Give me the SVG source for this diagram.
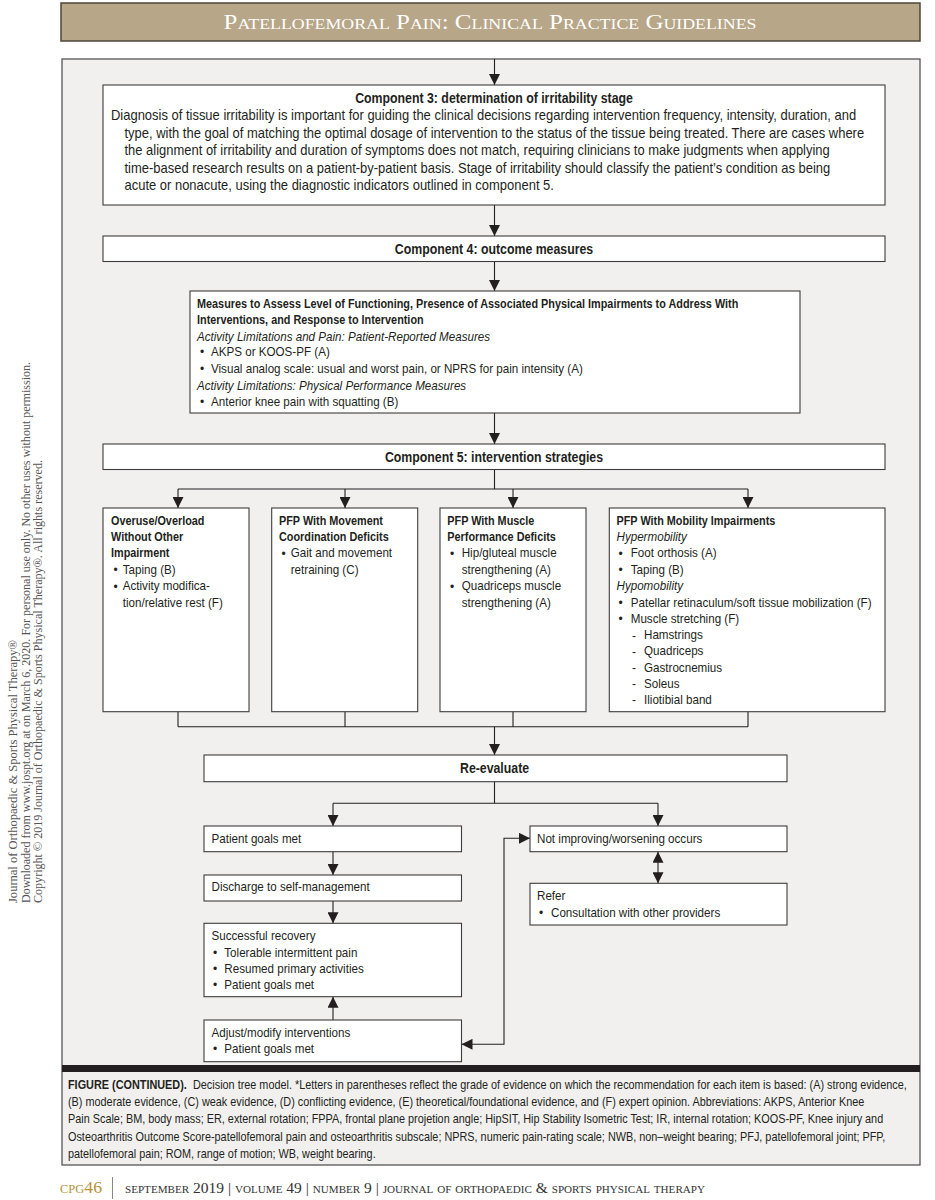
<svg xmlns="http://www.w3.org/2000/svg" width="935" height="1200" viewBox="0 0 935 1200">
<style>
.box{fill:#fff;stroke:#3c3c3c;stroke-width:1.1}
.ln{fill:none;stroke:#231f20;stroke-width:1.1}
.t{font-family:"Liberation Sans",Arial,sans-serif;fill:#231f20;font-size:13px;transform-box:fill-box;transform-origin:0 0;transform:scaleX(.894)}
.s145{font-size:14.5px}
.s12{font-size:12px;transform:scaleX(.905)}
.b{font-weight:bold;transform:scaleX(.835)}
.i{font-style:italic}
.h{font-family:"Liberation Sans",Arial,sans-serif;fill:#231f20;font-size:14.5px;font-weight:bold;text-anchor:middle;transform-box:fill-box;transform-origin:50% 0;transform:scaleX(.85)}
.bu{font-family:"Liberation Sans",Arial,sans-serif;fill:#231f20;font-size:12px}
.vt{font-family:"Liberation Serif","Times New Roman",serif;fill:#555;font-size:12px}
.sc{font-family:"Liberation Serif","Times New Roman",serif;font-variant:small-caps}
</style>
<defs>
<marker id="ah" markerUnits="userSpaceOnUse" markerWidth="11" markerHeight="11" refX="11" refY="5.5" orient="auto-start-reverse">
<path d="M0,0 L11,5.5 L0,11 Z" fill="#231f20"/>
</marker>
</defs>
<rect width="935" height="1200" fill="#fff"/>
<!-- header -->
<g id="header">
<rect x="61" y="3" width="859" height="38" fill="#b7a688" stroke="#4d4538" stroke-width="1.5"/>
<text class="sc" x="490" y="29" font-size="21" fill="#fff" text-anchor="middle" textLength="533" lengthAdjust="spacingAndGlyphs">Patellofemoral Pain: Clinical Practice Guidelines</text>
</g>
<!-- side notice -->
<g id="side-notice">
<text class="vt" transform="translate(17,903) rotate(-90)" textLength="263" lengthAdjust="spacingAndGlyphs">Journal of Orthopaedic &amp; Sports Physical Therapy®</text>
<text class="vt" transform="translate(29.5,903) rotate(-90)" textLength="541" lengthAdjust="spacingAndGlyphs">Downloaded from www.jospt.org at on March 6, 2020. For personal use only. No other uses without permission.</text>
<text class="vt" transform="translate(42,903) rotate(-90)" textLength="443" lengthAdjust="spacingAndGlyphs">Copyright © 2019 Journal of Orthopaedic &amp; Sports Physical Therapy®. All rights reserved.</text>
</g>
<!-- frame -->
<g id="frame">
<rect x="62" y="59" width="858" height="1106" fill="#f1f0ee" stroke="#555" stroke-width="1.3"/>
<rect x="62" y="1065" width="858" height="7" fill="#231f20"/>
</g>
<!-- connectors -->
<g id="connectors" class="ln">
<path d="M494.5,59 V85" marker-end="url(#ah)"/>
<path d="M494.5,205 V236" marker-end="url(#ah)"/>
<path d="M494.5,261.5 V291" marker-end="url(#ah)"/>
<path d="M494.5,413 V444" marker-end="url(#ah)"/>
<path d="M494.5,469.5 V489 M178,489 H748"/>
<path d="M178,489 V508" marker-end="url(#ah)"/>
<path d="M345,489 V508" marker-end="url(#ah)"/>
<path d="M513,489 V508" marker-end="url(#ah)"/>
<path d="M748,489 V508" marker-end="url(#ah)"/>
<path d="M178,711.7 V726.7 M345,711.7 V726.7 M513,711.7 V726.7 M748,711.7 V726.7 M178,726.7 H748"/>
<path d="M494.5,726.7 V755" marker-end="url(#ah)"/>
<path d="M494.5,781.7 V803.3 M333,803.3 H658"/>
<path d="M333,803.3 V826" marker-end="url(#ah)"/>
<path d="M658,803.3 V826" marker-end="url(#ah)"/>
<path d="M333,851.7 V875" marker-end="url(#ah)"/>
<path d="M333,901 V923.3" marker-end="url(#ah)"/>
<path d="M333,1020 V996.7" marker-end="url(#ah)"/>
<path d="M658,851.7 V883.3" marker-start="url(#ah)" marker-end="url(#ah)"/>
<path d="M461.5,1044.3 H504 V838.3 H530" marker-start="url(#ah)" marker-end="url(#ah)"/>
</g>
<!-- component 3 -->
<g id="component3">
<rect class="box" x="103" y="85" width="782" height="120"/>
<text class="h" x="494" y="103">Component 3: determination of irritability stage</text>
<text class="t s145" x="111" y="120.5">Diagnosis of tissue irritability is important for guiding the clinical decisions regarding intervention frequency, intensity, duration, and</text>
<text class="t s145" x="124.5" y="138">type, with the goal of matching the optimal dosage of intervention to the status of the tissue being treated. There are cases where</text>
<text class="t s145" x="124.5" y="155.5">the alignment of irritability and duration of symptoms does not match, requiring clinicians to make judgments when applying</text>
<text class="t s145" x="124.5" y="173">time-based research results on a patient-by-patient basis. Stage of irritability should classify the patient’s condition as being</text>
<text class="t s145" x="124.5" y="190.5">acute or nonacute, using the diagnostic indicators outlined in component 5.</text>
</g>
<g id="component4">
<rect class="box" x="103" y="236" width="782" height="25.5"/>
<text class="h" x="494" y="254">Component 4: outcome measures</text>
</g>
<g id="measures">
<rect class="box" x="190" y="291" width="610" height="122"/>
<text class="t b" x="197" y="308">Measures to Assess Level of Functioning, Presence of Associated Physical Impairments to Address With</text>
<text class="t b" x="197" y="324">Interventions, and Response to Intervention</text>
<text class="t i" x="197" y="340.7">Activity Limitations and Pain: Patient-Reported Measures</text>
<text class="bu" x="200" y="356.4">•</text><text class="t" x="211" y="356.4">AKPS or KOOS-PF (A)</text>
<text class="bu" x="200" y="373">•</text><text class="t" x="211" y="373">Visual analog scale: usual and worst pain, or NPRS for pain intensity (A)</text>
<text class="t i" x="197" y="389.7">Activity Limitations: Physical Performance Measures</text>
<text class="bu" x="200" y="405.7">•</text><text class="t" x="211" y="405.7">Anterior knee pain with squatting (B)</text>
</g>
<g id="component5">
<rect class="box" x="103" y="444" width="782" height="25.5"/>
<text class="h" x="494" y="462">Component 5: intervention strategies</text>
</g>
<g id="overuse">
<rect class="box" x="103" y="508" width="146" height="203.7"/>
<text class="t b" x="111" y="525">Overuse/Overload</text>
<text class="t b" x="111" y="541">Without Other</text>
<text class="t b" x="111" y="557.5">Impairment</text>
<text class="bu" x="113.5" y="574">•</text><text class="t" x="122.7" y="574">Taping (B)</text>
<text class="bu" x="113.5" y="590.5">•</text><text class="t" x="122.7" y="590.5">Activity modifica-</text>
<text class="t" x="122.7" y="607">tion/relative rest (F)</text>
</g>
<g id="movement">
<rect class="box" x="271.7" y="508" width="146" height="203.7"/>
<text class="t b" x="279" y="525">PFP With Movement</text>
<text class="t b" x="279" y="541">Coordination Deficits</text>
<text class="bu" x="281.5" y="557.5">•</text><text class="t" x="290.7" y="557.5">Gait and movement</text>
<text class="t" x="290.7" y="574">retraining (C)</text>
</g>
<g id="muscle">
<rect class="box" x="440" y="508" width="146" height="203.7"/>
<text class="t b" x="447.3" y="525">PFP With Muscle</text>
<text class="t b" x="447.3" y="541">Performance Deficits</text>
<text class="bu" x="450" y="557.5">•</text><text class="t" x="461.7" y="557.5">Hip/gluteal muscle</text>
<text class="t" x="461.7" y="574">strengthening (A)</text>
<text class="bu" x="450" y="590.5">•</text><text class="t" x="461.7" y="590.5">Quadriceps muscle</text>
<text class="t" x="461.7" y="607">strengthening (A)</text>
</g>
<g id="mobility">
<rect class="box" x="609.3" y="508" width="275.7" height="203.7"/>
<text class="t b" x="616.5" y="525">PFP With Mobility Impairments</text>
<text class="t i" x="616.5" y="541">Hypermobility</text>
<text class="bu" x="618.5" y="557.5">•</text><text class="t" x="630.7" y="557.5">Foot orthosis (A)</text>
<text class="bu" x="618.5" y="574">•</text><text class="t" x="630.7" y="574">Taping (B)</text>
<text class="t i" x="616.5" y="590.5">Hypomobility</text>
<text class="bu" x="618.5" y="607">•</text><text class="t" x="630.7" y="607">Patellar retinaculum/soft tissue mobilization (F)</text>
<text class="bu" x="618.5" y="623">•</text><text class="t" x="630.7" y="623">Muscle stretching (F)</text>
<text class="bu" x="632" y="639.5">-</text><text class="t" x="644" y="639.5">Hamstrings</text>
<text class="bu" x="632" y="655.5">-</text><text class="t" x="644" y="655.5">Quadriceps</text>
<text class="bu" x="632" y="672">-</text><text class="t" x="644" y="672">Gastrocnemius</text>
<text class="bu" x="632" y="688">-</text><text class="t" x="644" y="688">Soleus</text>
<text class="bu" x="632" y="704">-</text><text class="t" x="644" y="704">Iliotibial band</text>
</g>
<g id="reevaluate">
<rect class="box" x="204" y="755" width="583" height="26.7"/>
<text class="h" x="494.5" y="773">Re-evaluate</text>
</g>
<g id="goals-met">
<rect class="box" x="204" y="826" width="257.5" height="25.7"/>
<text class="t" x="211.5" y="843">Patient goals met</text>
</g>
<g id="discharge">
<rect class="box" x="204" y="875" width="257.5" height="26"/>
<text class="t" x="211.5" y="891.5">Discharge to self-management</text>
</g>
<g id="recovery">
<rect class="box" x="204" y="923.3" width="257.5" height="73.4"/>
<text class="t" x="211.5" y="940.5">Successful recovery</text>
<text class="bu" x="213" y="957">•</text><text class="t" x="224.3" y="957">Tolerable intermittent pain</text>
<text class="bu" x="213" y="973">•</text><text class="t" x="224.3" y="973">Resumed primary activities</text>
<text class="bu" x="213" y="989">•</text><text class="t" x="224.3" y="989">Patient goals met</text>
</g>
<g id="adjust">
<rect class="box" x="204" y="1020" width="257.5" height="41.7"/>
<text class="t" x="211.5" y="1037">Adjust/modify interventions</text>
<text class="bu" x="213" y="1053">•</text><text class="t" x="224.3" y="1053">Patient goals met</text>
</g>
<g id="not-improving">
<rect class="box" x="530" y="826" width="257" height="25.7"/>
<text class="t" x="537" y="843">Not improving/worsening occurs</text>
</g>
<g id="refer">
<rect class="box" x="530" y="883.3" width="257" height="41.7"/>
<text class="t" x="537" y="900.5">Refer</text>
<text class="bu" x="539" y="917">•</text><text class="t" x="551" y="917">Consultation with other providers</text>
</g>
<!-- caption -->
<g id="caption">
<text class="t s12" x="68" y="1089" font-weight="bold">FIGURE (CONTINUED).</text>
<text class="t s12" x="193" y="1089">Decision tree model. *Letters in parentheses reflect the grade of evidence on which the recommendation for each item is based: (A) strong evidence,</text>
<text class="t s12" x="68" y="1106">(B) moderate evidence, (C) weak evidence, (D) conflicting evidence, (E) theoretical/foundational evidence, and (F) expert opinion. Abbreviations: AKPS, Anterior Knee</text>
<text class="t s12" x="68" y="1123">Pain Scale; BM, body mass; ER, external rotation; FPPA, frontal plane projetion angle; HipSIT, Hip Stability Isometric Test; IR, internal rotation; KOOS-PF, Knee injury and</text>
<text class="t s12" x="68" y="1141">Osteoarthritis Outcome Score-patellofemoral pain and osteoarthritis subscale; NPRS, numeric pain-rating scale; NWB, non–weight bearing; PFJ, patellofemoral joint; PFP,</text>
<text class="t s12" x="68" y="1158">patellofemoral pain; ROM, range of motion; WB, weight bearing.</text>
</g>
<!-- footer -->
<g id="footer">
<text class="sc" x="60" y="1193" font-size="17" fill="#b8933a" textLength="42" lengthAdjust="spacingAndGlyphs">cpg46</text>
<line x1="112.5" y1="1177" x2="112.5" y2="1199" stroke="#888" stroke-width="1"/>
<text class="sc" x="125" y="1193" font-size="14" fill="#333" textLength="580" lengthAdjust="spacingAndGlyphs">september 2019 | volume 49 | number 9 | journal of orthopaedic &amp; sports physical therapy</text>
</g>
</svg>
